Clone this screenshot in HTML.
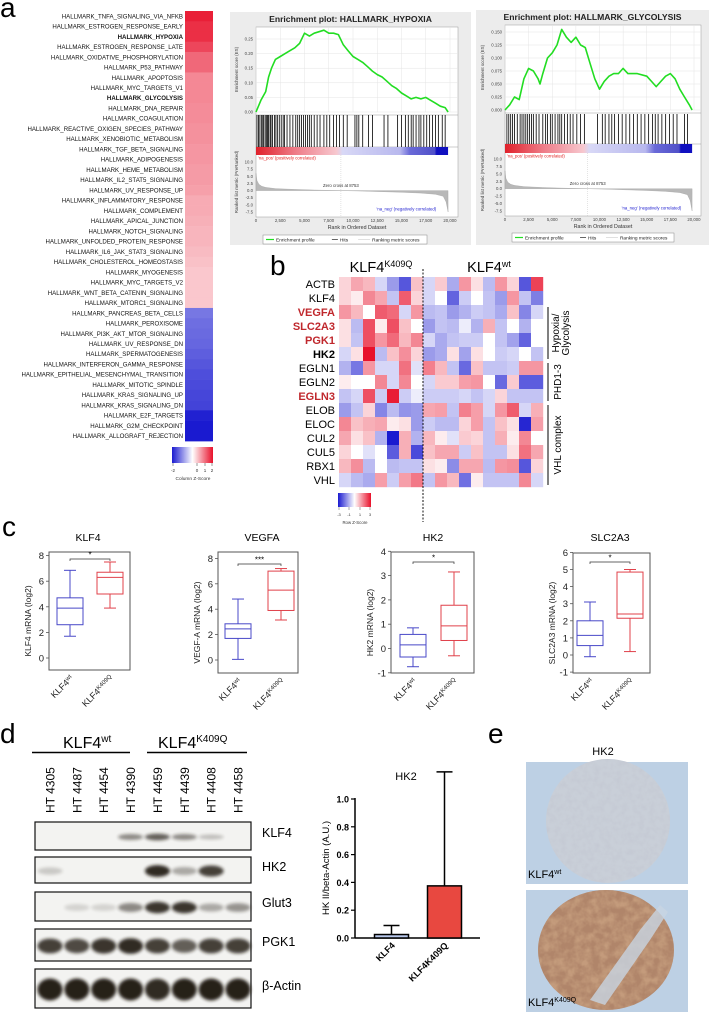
<!DOCTYPE html>
<html><head><meta charset="utf-8">
<style>
html,body{margin:0;padding:0;background:#fff;}
svg{display:block;font-family:"Liberation Sans",Arial,sans-serif;}
</style></head>
<body>
<svg id="fig" width="709" height="1012" viewBox="0 0 709 1012" xmlns="http://www.w3.org/2000/svg">
<defs>
<linearGradient id="zgrad" x1="0" x2="1" y1="0" y2="0">
<stop offset="0" stop-color="#1a1ad0"/><stop offset="0.5" stop-color="#ffffff"/><stop offset="1" stop-color="#e8102a"/>
</linearGradient>
<linearGradient id="rankgrad" x1="0" x2="1" y1="0" y2="0">
<stop offset="0" stop-color="#e0202a"/><stop offset="0.2" stop-color="#ee7a86"/><stop offset="0.42" stop-color="#f7c8cf"/>
<stop offset="0.45" stop-color="#d8d8f6"/><stop offset="0.75" stop-color="#b8b8ee"/><stop offset="0.8" stop-color="#6a6ad8"/>
<stop offset="0.93" stop-color="#5050c8"/><stop offset="0.94" stop-color="#1010c0"/><stop offset="1" stop-color="#1010c0"/>
</linearGradient>
<filter id="blur1" x="-20%" y="-50%" width="140%" height="200%"><feGaussianBlur stdDeviation="1.6"/></filter>
<filter id="tissueWt" x="0" y="0" width="100%" height="100%">
<feTurbulence type="fractalNoise" baseFrequency="0.18" numOctaves="3" seed="3" result="n"/>
<feColorMatrix in="n" type="matrix" values="0 0 0 0 0.55  0 0 0 0 0.58  0 0 0 0 0.65  0 0 0 1.6 -0.55" result="c"/>
<feComposite in="c" in2="SourceGraphic" operator="in"/>
</filter>
<filter id="tissueK" x="0" y="0" width="100%" height="100%">
<feTurbulence type="fractalNoise" baseFrequency="0.12" numOctaves="3" seed="7" result="n"/>
<feColorMatrix in="n" type="matrix" values="0 0 0 0 0.55  0 0 0 0 0.33  0 0 0 0 0.2  0 0 0 2.2 -0.7" result="c"/>
<feComposite in="c" in2="SourceGraphic" operator="in"/>
</filter>
</defs>
</svg>
<script>
// ---------- DATA ----------
const hallmarkNames = ["HALLMARK_TNFA_SIGNALING_VIA_NFKB","HALLMARK_ESTROGEN_RESPONSE_EARLY","HALLMARK_HYPOXIA","HALLMARK_ESTROGEN_RESPONSE_LATE","HALLMARK_OXIDATIVE_PHOSPHORYLATION","HALLMARK_P53_PATHWAY","HALLMARK_APOPTOSIS","HALLMARK_MYC_TARGETS_V1","HALLMARK_GLYCOLYSIS","HALLMARK_DNA_REPAIR","HALLMARK_COAGULATION","HALLMARK_REACTIVE_OXIGEN_SPECIES_PATHWAY","HALLMARK_XENOBIOTIC_METABOLISM","HALLMARK_TGF_BETA_SIGNALING","HALLMARK_ADIPOGENESIS","HALLMARK_HEME_METABOLISM","HALLMARK_IL2_STAT5_SIGNALING","HALLMARK_UV_RESPONSE_UP","HALLMARK_INFLAMMATORY_RESPONSE","HALLMARK_COMPLEMENT","HALLMARK_APICAL_JUNCTION","HALLMARK_NOTCH_SIGNALING","HALLMARK_UNFOLDED_PROTEIN_RESPONSE","HALLMARK_IL6_JAK_STAT3_SIGNALING","HALLMARK_CHOLESTEROL_HOMEOSTASIS","HALLMARK_MYOGENESIS","HALLMARK_MYC_TARGETS_V2","HALLMARK_WNT_BETA_CATENIN_SIGNALING","HALLMARK_MTORC1_SIGNALING","HALLMARK_PANCREAS_BETA_CELLS","HALLMARK_PEROXISOME","HALLMARK_PI3K_AKT_MTOR_SIGNALING","HALLMARK_UV_RESPONSE_DN","HALLMARK_SPERMATOGENESIS","HALLMARK_INTERFERON_GAMMA_RESPONSE","HALLMARK_EPITHELIAL_MESENCHYMAL_TRANSITION","HALLMARK_MITOTIC_SPINDLE","HALLMARK_KRAS_SIGNALING_UP","HALLMARK_KRAS_SIGNALING_DN","HALLMARK_E2F_TARGETS","HALLMARK_G2M_CHECKPOINT","HALLMARK_ALLOGRAFT_REJECTION"];
const hallmarkZ = [2.2,2.0,2.0,1.7,1.3,1.3,0.95,0.95,0.95,0.9,0.9,0.85,0.85,0.8,0.8,0.75,0.75,0.7,0.6,0.6,0.55,0.5,0.5,0.45,0.4,0.35,0.35,0.35,0.35,-1.2,-1.3,-1.35,-1.4,-1.5,-1.6,-1.7,-1.75,-1.8,-1.85,-2.3,-2.4,-2.6];
const hallmarkBold = ["HALLMARK_HYPOXIA","HALLMARK_GLYCOLYSIS"];

const esTicksHyp = [0,0.05,0.10,0.15,0.20,0.25];
const esTicksGly = [0,0.025,0.05,0.075,0.10,0.125,0.15];
const rankTicks = [0,2500,5000,7500,10000,12500,15000,17500,20000];
const metricTicks = [10,7.5,5,2.5,0,-2.5,-5,-7.5];
const hypRanks = [0,0.5,1,1.3,1.6,2,2.5,3,3.5,4,4.5,5,5.5,6,6.5,7,7.5,8,8.5,9,9.5,10,10.5,11,11.5,12,12.5,13,13.5,14,14.5,15,15.5,16,16.5,17,17.5,18,18.5,19,19.5,19.8];
const hypES = [0,0.04,0.07,0.12,0.15,0.18,0.19,0.2,0.21,0.22,0.235,0.27,0.26,0.27,0.275,0.28,0.27,0.27,0.265,0.23,0.21,0.19,0.18,0.17,0.155,0.14,0.128,0.12,0.105,0.09,0.08,0.065,0.055,0.045,0.05,0.045,0.05,0.04,0.03,0.02,0.015,0];
const hypHits = [0.1,0.25,0.4,0.55,0.7,0.8,0.95,1.1,1.2,1.3,1.45,1.55,1.7,1.9,2.05,2.2,2.4,2.6,2.8,2.95,3.2,3.5,3.8,4.1,4.3,4.5,4.7,4.9,5.1,5.3,5.5,5.7,6.0,6.3,6.6,7.0,7.3,7.6,8.0,8.3,8.6,9.0,9.4,10.2,10.4,10.6,11.0,11.6,12.0,13.2,13.6,14.6,15.0,15.4,15.7,16.0,16.2,16.5,16.8,17.0,17.3,17.6,17.9,18.2,18.5,18.8,19.2,19.5];
const glyRanks = [0,0.5,1,1.5,2,2.5,3,3.5,3.7,4,4.5,5,5.5,6,6.5,7,7.5,8,8.5,9,9.5,10,10.5,11,11.5,12,12.5,13,14,15,15.5,16,16.5,17,17.5,18,18.5,19,19.5,19.8];
const glyES = [0,0.01,0.025,0.02,0.06,0.08,0.075,0.06,0.05,0.07,0.1,0.11,0.125,0.155,0.14,0.13,0.14,0.125,0.12,0.09,0.06,0.04,0.055,0.065,0.07,0.07,0.08,0.07,0.07,0.065,0.055,0.045,0.055,0.065,0.07,0.06,0.04,0.025,0.01,0];
const glyHits = [0.2,0.4,0.6,0.8,1.0,1.3,1.6,1.8,2.0,2.2,2.4,2.6,2.8,3.0,3.3,3.6,4.0,4.3,4.5,4.8,5.0,5.3,5.6,5.8,6.0,6.3,6.6,6.9,7.2,7.6,8.0,8.4,9.8,10.3,10.6,11.0,11.3,11.6,12.0,12.4,12.8,13.2,13.6,14.0,14.4,14.8,15.2,15.6,15.9,16.2,16.6,17.0,17.4,17.8,18.2,19.0,19.3];
const metricRanks = [0,0.1,0.3,0.6,1,2,4,6,8.753,11,13,15,17,18.5,19.3,19.6,19.8];
const metricVals = [6,3.5,2.2,1.5,1.1,0.7,0.4,0.2,0,-0.2,-0.4,-0.6,-0.9,-1.3,-2,-4,-7.5];

const geneRows = ["ACTB","KLF4","VEGFA","SLC2A3","PGK1","HK2","EGLN1","EGLN2","EGLN3","ELOB","ELOC","CUL2","CUL5","RBX1","VHL"];
const geneRed = ["VEGFA","SLC2A3","PGK1","EGLN3"];
const geneBold = ["VEGFA","SLC2A3","PGK1","HK2","EGLN3"];
const zMut = [
[0.3,0.8,0.6,-0.3,-1.0,-2.0,0.5],
[0.3,0.1,1.2,0.8,-0.5,1.8,0.3],
[1.0,0.6,0.0,1.8,1.6,-0.3,1.0],
[0.2,-0.6,2.0,0.1,2.0,0.5,0.0],
[0.2,-0.5,2.0,1.0,1.6,0.6,1.2],
[-0.3,0.2,3.0,-0.6,0.5,1.1,0.3],
[-0.7,-1.5,1.0,-0.3,-0.3,1.5,-0.2],
[0.1,0.0,0.0,1.2,-0.3,1.2,0.0],
[-0.5,-0.3,2.0,-0.4,2.8,-0.4,-0.1],
[-1.0,-0.5,0.3,-1.3,-0.6,-1.1,-1.0],
[1.2,0.5,0.7,0.8,0.1,0.2,-1.0],
[0.8,0.2,0.5,-0.7,-3.0,0.7,-0.7],
[0.3,0.0,-0.2,0.0,-1.9,0.7,-2.2],
[0.6,1.1,-0.6,0.0,-0.6,-0.5,-0.5],
[-0.3,-0.6,-0.8,0.9,-0.4,0.9,1.4]];
const zWt = [
[-0.3,0.4,-0.8,1.0,0.2,-0.6,1.0,0.3,-2.0,2.2],
[-0.3,0.0,-1.8,-0.4,0.0,-0.5,-1.0,1.0,-0.5,-1.4],
[-0.6,-0.5,-1.0,-0.7,-0.4,-0.5,-0.8,0.5,-1.3,-0.3],
[-1.0,-0.5,-0.6,-0.1,-0.7,0.7,-0.5,0.0,-0.7,0.0],
[-0.3,-0.8,-0.5,-0.4,-0.4,0.0,-0.5,-0.9,-1.8,0.0],
[-1.0,-0.8,0.2,-0.9,0.2,0.0,-0.4,-0.3,0.0,-0.5],
[1.3,0.6,-0.5,-1.7,0.5,-0.5,-0.5,-0.4,1.0,1.0],
[-0.3,0.4,0.4,0.9,1.0,0.0,-1.7,0.4,-1.9,-1.9],
[-0.4,-0.4,-0.4,-0.3,-0.5,-0.3,0.3,-0.5,-0.5,-0.5],
[0.8,0.9,-0.5,1.3,0.9,-0.3,1.0,1.8,-0.3,0.7],
[-0.4,-0.6,-0.6,0.3,0.9,-0.5,0.5,0.2,-2.8,0.9],
[0.6,0.1,-0.2,0.4,0.3,-0.5,0.7,0.1,1.2,0.0],
[0.5,0.8,0.8,-0.4,0.5,-0.5,-0.5,0.2,1.5,0.8],
[0.2,0.1,-1.2,0.8,0.8,-0.6,1.0,1.1,-2.0,0.3],
[-0.5,1.0,0.6,-1.6,0.1,-0.5,-0.5,-0.5,1.2,-0.3]];

// boxplots: [whiskerLow, q1, median, q3, whiskerHigh]
const boxGenes = ["KLF4","VEGFA","HK2","SLC2A3"];
const boxWt = [[1.7,2.6,3.9,4.7,6.85],[0.05,1.7,2.45,2.85,4.8],[-0.75,-0.35,0.15,0.58,0.85],[-0.1,0.55,1.15,2.0,3.1]];
const boxMut = [[3.9,5.0,6.3,6.7,7.5],[3.15,3.9,5.5,7.0,7.2],[-0.3,0.33,0.93,1.78,3.15],[0.2,2.15,2.4,4.85,5.0]];
const boxTicks = [[0,2,4,6,8],[0,2,4,6,8],[-1,0,1,2,3,4],[-1,0,1,2,3,4,5,6]];
const boxSig = ["*","***","*","*"];
const boxYLabels = ["KLF4 mRNA (log2)","VEGF-A mRNA (log2)","HK2 mRNA (log2)","SLC2A3 mRNA (log2)"];

const laneNames = ["HT 4305","HT 4487","HT 4454","HT 4390","HT 4459","HT 4439","HT 4408","HT 4458"];
const blotNames = ["KLF4","HK2","Glut3","PGK1","β-Actin"];
const blotKLF4 = [0,0,0,0.5,0.7,0.5,0.25,0];
const blotHK2 = [0.2,0,0,0,0.95,0.35,0.85,0];
const blotGlut3 = [0,0.15,0.15,0.5,0.9,0.9,0.35,0.45];
const blotPGK1 = [0.85,0.8,0.9,0.95,0.85,0.7,0.85,0.85];
const blotActin = [1,1,1,1,0.95,1,1,1];

const barCats = ["KLF4","KLF4K409Q"];
const barMeans = [0.025,0.375];
const barErr = [0.065,0.82];
const barTicks = [0,0.2,0.4,0.6,0.8,1.0];

// ---------- HELPERS ----------
const svg = document.getElementById('fig');
const NS = "http://www.w3.org/2000/svg";
function mk(tag, attrs, parent){
  const e = document.createElementNS(NS, tag);
  for (const k in attrs) e.setAttribute(k, attrs[k]);
  (parent||svg).appendChild(e);
  return e;
}
function txt(str, attrs, parent){ const t = mk('text', attrs, parent); t.textContent = str; return t; }
function grp(parent){ return mk('g', {}, parent); }
function lin(d0,d1,r0,r1){ return v => r0 + (v-d0)/(d1-d0)*(r1-r0); }
function mix(a,b,t){ return 'rgb('+a.map((x,i)=>Math.round(x+(b[i]-x)*t)).join(',')+')'; }
function zColor(z, max){
  const t = Math.min(1, Math.abs(z)/max);
  return z>=0 ? mix([255,255,255],[232,16,42],Math.pow(t,0.75)) : mix([255,255,255],[26,26,208],Math.pow(t,0.75));
}

// ---------- PANEL LETTERS ----------
[["a",0,17],["b",270,275],["c",2,536],["d",0,743],["e",488,743]].forEach(p=>{
  const t = txt(p[0], {x:p[1], y:p[2], 'font-size':28, fill:'#000'});
  
  
});

// ---------- PANEL A ----------
(function(){
  const g = grp();
  
  
  const top = 11, rh = 10.24;
  hallmarkNames.forEach((n,i)=>{
    const r = mk('rect', {x:185, y:top+i*rh, width:28, height:rh+0.3, fill:zColor(hallmarkZ[i],2.4)}, g);
    
    
    const t = txt(n, {x:183, y:top+i*rh+rh/2+2.2, 'text-anchor':'end', 'font-size':6.1, 'font-weight':hallmarkBold.includes(n)?'bold':'normal', fill:'#111'}, g);
    
    
  });
  const cb = mk('rect', {x:172, y:447, width:41, height:16, fill:'url(#zgrad)'}, g);
  
  
  [[-2,173],[0,197],[1,205],[2,212]].forEach(p=>{
    mk('line', {x1:p[1], x2:p[1], y1:463, y2:466, stroke:'#333', 'stroke-width':0.5}, g);
    const t = txt(String(p[0]), {x:p[1], y:472, 'font-size':4.5, 'text-anchor':'middle', fill:'#333'}, g);
    
    
  });
  const ct = txt('Column Z-Score', {x:193, y:480, 'font-size':4.8, 'text-anchor':'middle', fill:'#333'}, g);
  
  
})();

// ---------- GSEA ----------
function drawGSEA(L, title, ranks, es, hits, esTicks, esFmt, name){
  const g = grp();
  
  
  const bg = mk('rect', {x:L.bx0, y:L.by0, width:L.bx1-L.bx0, height:L.by1-L.by0, fill:'#ececec'}, g);
  
  
  const tt = txt(title, {x:(L.bx0+L.bx1)/2, y:L.by0+10, 'font-size':8.6, 'font-weight':'bold', 'text-anchor':'middle', fill:'#222'}, g);
  
  
  const X = lin(0,20000,L.x0,L.x20);
  const XR = v => X(v*1000);
  const Y = lin(0,esTicks[esTicks.length-1],L.es0,L.esTop);
  mk('rect', {x:L.x0, y:L.top, width:L.fr-L.x0, height:L.bot-L.top, fill:'#fff', stroke:'#999', 'stroke-width':0.5}, g);
  mk('line', {x1:L.x0, x2:L.fr, y1:L.es0+3, y2:L.es0+3, stroke:'#999', 'stroke-width':0.5}, g);
  mk('line', {x1:L.x0, x2:L.fr, y1:L.hb, y2:L.hb, stroke:'#999', 'stroke-width':0.5}, g);
  rankTicks.forEach(v=>mk('line', {x1:X(v), x2:X(v), y1:L.top, y2:L.es0, stroke:'#e4e4e4', 'stroke-width':0.5}, g));
  esTicks.forEach(v=>{
    mk('line', {x1:L.x0, x2:L.fr, y1:Y(v), y2:Y(v), stroke:'#e4e4e4', 'stroke-width':0.5}, g);
    const t = txt(esFmt(v), {x:L.x0-3, y:Y(v)+1.5, 'font-size':4.3, 'text-anchor':'end', fill:'#444'}, g);
    
    
  });
  const yl = txt('Enrichment score (ES)', {x:0, y:0, 'font-size':4.5, 'text-anchor':'middle', fill:'#444', transform:`translate(${L.bx0+8},${(L.top+L.es0)/2}) rotate(-90)`}, g);
  
  
  const pts = ranks.map((r,i)=>XR(r).toFixed(1)+','+Y(es[i]).toFixed(1)).join(' ');
  const pl = mk('polyline', {points:pts, fill:'none', stroke:'#22dd22', 'stroke-width':1.6, 'stroke-linejoin':'round'}, g);
  
  
  hits.forEach(h=>{
    const l = mk('line', {x1:XR(h), x2:XR(h), y1:L.ht, y2:L.hb, stroke:'#000', 'stroke-width':0.8}, g);
    
    
  });
  const rb = mk('rect', {x:L.x0, y:L.hb, width:XR(19.8)-L.x0, height:L.cb-L.hb, fill:'url(#rankgrad)'}, g);
  
  
  const M = lin(10,-7.5,L.m10,L.m75);
  metricTicks.forEach(v=>{
    const t = txt(v.toFixed(1), {x:L.x0-3, y:M(v)+1.5, 'font-size':4.3, 'text-anchor':'end', fill:'#444'}, g);
    
    
  });
  let d = 'M'+XR(metricRanks[0])+','+M(0);
  metricRanks.forEach((r,i)=>{ d += ' L'+XR(r).toFixed(1)+','+M(metricVals[i]).toFixed(1); });
  d += ' L'+XR(metricRanks[metricRanks.length-1])+','+M(0)+' Z';
  const ar = mk('path', {d:d, fill:'#b8b8b8', stroke:'#999', 'stroke-width':0.3}, g);
  
  
  mk('line', {x1:XR(8.753), x2:XR(8.753), y1:L.cb, y2:L.bot, stroke:'#bbb', 'stroke-width':0.4, 'stroke-dasharray':'1,1'}, g);
  txt("'na_pos' (positively correlated)", {x:L.x0+2, y:L.cb+4.5, 'font-size':4.3, fill:'#e02020'}, g);
  txt("Zero cross at 8753", {x:XR(8.753), y:M(1.3), 'font-size':4.3, 'text-anchor':'middle', fill:'#333'}, g);
  txt("'na_neg' (negatively correlated)", {x:XR(15.5), y:M(-7), 'font-size':4.3, 'text-anchor':'middle', fill:'#2020d0'}, g);
  const ml = txt('Ranked list metric (PreRanked)', {x:0, y:0, 'font-size':4.5, 'text-anchor':'middle', fill:'#444', transform:`translate(${L.bx0+8},${(L.hb+L.bot)/2}) rotate(-90)`}, g);
  
  
  rankTicks.forEach(v=>{
    const t = txt(v===0?'0':v.toLocaleString('en-US'), {x:X(v), y:L.bot+5, 'font-size':4.3, 'text-anchor':'middle', fill:'#444'}, g);
    
    
  });
  const xt = txt('Rank in Ordered Dataset', {x:(L.x0+L.fr)/2, y:L.bot+12, 'font-size':5.3, 'text-anchor':'middle', fill:'#333'}, g);
  
  
  const lg = grp(g);
  
  
  mk('rect', {x:L.lx0, y:L.ly, width:L.lx1-L.lx0, height:9, fill:'#fff', stroke:'#888', 'stroke-width':0.5}, lg);
  const w = L.lx1-L.lx0;
  mk('line', {x1:L.lx0+3, x2:L.lx0+11, y1:L.ly+4.5, y2:L.ly+4.5, stroke:'#22dd22', 'stroke-width':1.2}, lg);
  txt('Enrichment profile', {x:L.lx0+13, y:L.ly+6.3, 'font-size':4.8, fill:'#222'}, lg);
  mk('line', {x1:L.lx0+w*0.42, x2:L.lx0+w*0.42+6, y1:L.ly+4.5, y2:L.ly+4.5, stroke:'#000', 'stroke-width':0.6}, lg);
  txt('Hits', {x:L.lx0+w*0.42+8, y:L.ly+6.3, 'font-size':4.8, fill:'#222'}, lg);
  mk('line', {x1:L.lx0+w*0.58, x2:L.lx0+w*0.58+12, y1:L.ly+4.5, y2:L.ly+4.5, stroke:'#ccc', 'stroke-width':0.6}, lg);
  txt('Ranking metric scores', {x:L.lx0+w*0.58+14, y:L.ly+6.3, 'font-size':4.8, fill:'#222'}, lg);
}
drawGSEA({bx0:230,bx1:471,by0:12,by1:245,x0:256,x20:450,fr:458,top:27,es0:112,esTop:39,ht:115,hb:147,cb:155,m10:162,m75:212,bot:217,lx0:263,lx1:427,ly:235},
  'Enrichment plot: HALLMARK_HYPOXIA', hypRanks, hypES, hypHits, esTicksHyp, v=>v.toFixed(2), 'gsea-hypoxia-plot');
drawGSEA({bx0:476,bx1:709,by0:10,by1:245,x0:505,x20:694,fr:701,top:25,es0:110,esTop:32,ht:114,hb:144,cb:153,m10:159,m75:211,bot:216,lx0:512,lx1:674,ly:233},
  'Enrichment plot: HALLMARK_GLYCOLYSIS', glyRanks, glyES, glyHits, esTicksGly, v=>v.toFixed(3), 'gsea-glycolysis-plot');

// ---------- PANEL B ----------
(function(){
  const g = grp();
  
  
  const top = 277, rh = 14, xL = 339, cwL = 12, xD = 423, cwR = 12;
  const t1 = txt('KLF4', {x:381, y:272, 'font-size':14.5, 'text-anchor':'middle', fill:'#000'}, g);
  const s1 = mk('tspan', {'font-size':9, dy:-5}, t1); s1.textContent = 'K409Q';
  
  
  const t2 = txt('KLF4', {x:489, y:272, 'font-size':14.5, 'text-anchor':'middle', fill:'#000'}, g);
  const s2 = mk('tspan', {'font-size':9, dy:-5}, t2); s2.textContent = 'wt';
  
  
  geneRows.forEach((gn,i)=>{
    zMut[i].forEach((z,j)=>{
      const r = mk('rect', {x:xL+j*cwL, y:top+i*rh, width:cwL+0.2, height:rh+0.2, fill:zColor(z,3)}, g);
      
      
    });
    zWt[i].forEach((z,j)=>{
      const r = mk('rect', {x:xD+j*cwR, y:top+i*rh, width:cwR+0.2, height:rh+0.2, fill:zColor(z,3)}, g);
      
      
    });
    const t = txt(gn, {x:335, y:top+i*rh+rh/2+4, 'font-size':11, 'text-anchor':'end', 'font-weight':geneBold.includes(gn)?'bold':'normal', fill:geneRed.includes(gn)?'#c0282d':'#000'}, g);
    
    
  });
  const dl = mk('line', {x1:xD, x2:xD, y1:top-8, y2:top+15*rh+35, stroke:'#111', 'stroke-width':1, 'stroke-dasharray':'2,1.5'}, g);
  
  
  [[2,5,'Hypoxia/','Glycolysis'],[6,8,'PHD1-3',null],[9,14,'VHL complex',null]].forEach(b=>{
    const y0 = top+b[0]*rh+2, y1 = top+(b[1]+1)*rh-2;
    const l = mk('line', {x1:548, x2:548, y1:y0, y2:y1, stroke:'#000', 'stroke-width':1}, g);
    
    
    const cy = (y0+y1)/2;
    if (b[3]) {
      txt(b[2], {x:0, y:0, 'font-size':10, 'text-anchor':'middle', transform:`translate(559,${cy}) rotate(-90)`}, g);
      txt(b[3], {x:0, y:0, 'font-size':10, 'text-anchor':'middle', transform:`translate(569,${cy}) rotate(-90)`}, g);
    } else {
      const t = txt(b[2], {x:0, y:0, 'font-size':10, 'text-anchor':'middle', transform:`translate(561,${cy}) rotate(-90)`}, g);
      
      
    }
  });
  const cb = mk('rect', {x:338, y:493, width:33, height:14, fill:'url(#zgrad)'}, g);
  
  
  [[-3,339],[-1,349],[1,360],[3,370]].forEach(p=>{
    mk('line', {x1:p[1], x2:p[1], y1:507, y2:510, stroke:'#333', 'stroke-width':0.4}, g);
    txt(String(p[0]), {x:p[1], y:516, 'font-size':4, 'text-anchor':'middle', fill:'#333'}, g);
  });
  txt('Row Z-Score', {x:355, y:524, 'font-size':4.3, 'text-anchor':'middle', fill:'#333'}, g);
})();

// ---------- PANEL C ----------
const boxLayouts = [
  {ax:49, right:130, top:552, bot:670, y0:658, unit:12.8, cx:[70,110], sigY:559, tx:88},
  {ax:218, right:298, top:552, bot:673, y0:660, unit:12.7, cx:[238,281], sigY:564, tx:262},
  {ax:391, right:474, top:552, bot:673, y0:648.5, unit:24.3, cx:[413,454], sigY:562, tx:433},
  {ax:573, right:650, top:553, bot:673, y0:655, unit:17.1, cx:[590,630], sigY:562, tx:610}];
boxGenes.forEach((gene,k)=>{
  const L = boxLayouts[k];
  const g = grp();
  
  
  const Y = v => L.y0 - v*L.unit;
  const t = txt(gene, {x:L.tx, y:541, 'font-size':10.5, 'text-anchor':'middle', fill:'#000'}, g);
  
  
  mk('rect', {x:L.ax, y:L.top, width:L.right-L.ax, height:L.bot-L.top, fill:'none', stroke:'#555', 'stroke-width':1}, g);
  boxTicks[k].forEach(v=>{
    mk('line', {x1:L.ax-3, x2:L.ax, y1:Y(v), y2:Y(v), stroke:'#555', 'stroke-width':0.8}, g);
    const tl = txt(String(v), {x:L.ax-5, y:Y(v)+3.5, 'font-size':9.5, 'text-anchor':'end', fill:'#222'}, g);
    
    
  });
  const yl = txt(boxYLabels[k], {x:0, y:0, 'font-size':8.5, 'text-anchor':'middle', fill:'#222', transform:`translate(${L.ax-18},${(L.top+L.bot)/2+10}) rotate(-90)`}, g);
  
  
  [boxWt[k], boxMut[k]].forEach((b,i)=>{
    const c = i===0 ? '#4848c8' : '#e0404a';
    const cx = L.cx[i], hw = 13;
    const bg = grp(g);
    
    
    mk('line', {x1:cx, x2:cx, y1:Y(b[0]), y2:Y(b[4]), stroke:c, 'stroke-width':1}, bg);
    mk('line', {x1:cx-6, x2:cx+6, y1:Y(b[0]), y2:Y(b[0]), stroke:c, 'stroke-width':1}, bg);
    mk('line', {x1:cx-6, x2:cx+6, y1:Y(b[4]), y2:Y(b[4]), stroke:c, 'stroke-width':1}, bg);
    mk('rect', {x:cx-hw, y:Y(b[3]), width:2*hw, height:Y(b[1])-Y(b[3]), fill:'#fff', stroke:c, 'stroke-width':1}, bg);
    mk('line', {x1:cx-hw, x2:cx+hw, y1:Y(b[2]), y2:Y(b[2]), stroke:c, 'stroke-width':1}, bg);
    const lbl = txt('KLF4', {x:0, y:0, 'font-size':9, 'text-anchor':'end', fill:'#222', transform:`translate(${cx+4},${L.bot+9}) rotate(-45)`}, g);
    const sp = mk('tspan', {'font-size':6, dy:-3}, lbl); sp.textContent = i===0?'wt':'K409Q';
    
    
  });
  mk('path', {d:`M${L.cx[0]},${L.sigY+2} V${L.sigY} H${L.cx[1]} V${L.sigY+2}`, fill:'none', stroke:'#333', 'stroke-width':0.7}, g);
  const st = txt(boxSig[k], {x:(L.cx[0]+L.cx[1])/2, y:L.sigY-1.5, 'font-size':8, 'text-anchor':'middle', fill:'#000'}, g);
  
  
});

// ---------- PANEL D : western blot ----------
(function(){
  const g = grp();
  
  
  const h1 = txt('KLF4', {x:63, y:748, 'font-size':16, fill:'#000'}, g);
  const h1s = mk('tspan', {'font-size':10, dy:-6}, h1); h1s.textContent = 'wt';
  
  
  const h2 = txt('KLF4', {x:158, y:748, 'font-size':16, fill:'#000'}, g);
  const h2s = mk('tspan', {'font-size':10, dy:-6}, h2); h2s.textContent = 'K409Q';
  
  
  mk('line', {x1:32, x2:130, y1:752.5, y2:752.5, stroke:'#000', 'stroke-width':1.5}, g);
  mk('line', {x1:147, x2:247, y1:752.5, y2:752.5, stroke:'#000', 'stroke-width':1.5}, g);
  const laneX = lin(0,7,50,238);
  laneNames.forEach((n,i)=>{
    const t = txt(n, {x:0, y:0, 'font-size':12, fill:'#000', transform:`translate(${laneX(i)+4.5},813) rotate(-90)`}, g);
    
    
  });
  const blots = [[blotKLF4,822,850,4,3],[blotHK2,857,883,6,4],[blotGlut3,892,921,6,4],[blotPGK1,929,961,8,5],[blotActin,969,1008,11,7]];
  const labY = [837,871,907,946,990];
  blots.forEach((b,k)=>{
    const bg = grp(g);
    
    
    mk('rect', {x:35, y:b[1], width:216, height:b[2]-b[1], fill:'#f3f3f1', stroke:'#111', 'stroke-width':1.2}, bg);
    const cy = (b[1]+b[2])/2+1;
    b[0].forEach((v,i)=>{
      if (v<=0) return;
      const e = mk('ellipse', {cx:laneX(i), cy:cy, rx:12.5, ry:b[3]*(0.5+0.5*v), fill:'#1a1410', opacity:Math.min(1,v*0.95), filter:'url(#blur1)'}, bg);
      
      
    });
    const t = txt(blotNames[k], {x:262, y:labY[k], 'font-size':12.5, fill:'#000'}, g);
    
    
  });
})();

// ---------- PANEL D : bar chart ----------
(function(){
  const g = grp();
  
  
  const Y = lin(0,1,938,799);
  const bx = [391.5, 444.5], bw = 34;
  const tt = txt('HK2', {x:406, y:780, 'font-size':11, 'text-anchor':'middle', fill:'#000'}, g);
  
  
  mk('line', {x1:355, x2:355, y1:Y(1)-1, y2:Y(0), stroke:'#000', 'stroke-width':1.5}, g);
  mk('line', {x1:355, x2:480, y1:Y(0), y2:Y(0), stroke:'#000', 'stroke-width':1.5}, g);
  barTicks.forEach(v=>{
    mk('line', {x1:351, x2:355, y1:Y(v), y2:Y(v), stroke:'#000', 'stroke-width':1.2}, g);
    const t = txt(v.toFixed(1), {x:349, y:Y(v)+3.5, 'font-size':9, 'font-weight':'bold', 'text-anchor':'end', fill:'#000'}, g);
    
    
  });
  const yl = txt('HK II/beta-Actin (A.U.)', {x:0, y:0, 'font-size':9.5, 'text-anchor':'middle', fill:'#000', transform:`translate(329,868) rotate(-90)`}, g);
  
  
  barCats.forEach((c,i)=>{
    const eb = mk('path', {d:`M${bx[i]},${Y(barMeans[i])} V${Y(barMeans[i]+barErr[i])} M${bx[i]-8},${Y(barMeans[i]+barErr[i])} H${bx[i]+8}`, fill:'none', stroke:'#000', 'stroke-width':1.5}, g);
    
    
    const r = mk('rect', {x:bx[i]-bw/2, y:Y(barMeans[i]), width:bw, height:Y(0)-Y(barMeans[i]), fill:i===0?'#b8c8ec':'#e84840', stroke:'#000', 'stroke-width':1.5}, g);
    
    
    const t = txt(c, {x:0, y:0, 'font-size':9, 'font-weight':'bold', 'text-anchor':'end', fill:'#000', transform:`translate(${bx[i]+4},${Y(0)+8}) rotate(-45)`}, g);
    
    
  });
})();

// ---------- PANEL E ----------
(function(){
  const g = grp();
  
  
  const tt = txt('HK2', {x:603, y:755, 'font-size':11, 'text-anchor':'middle', fill:'#000'}, g);
  
  
  const i1 = grp(g);
  
  
  mk('rect', {x:526, y:762, width:162, height:122, fill:'#bdd0e4'}, i1);
  mk('circle', {cx:608, cy:821, r:62, fill:'#c9cfd8'}, i1);
  mk('circle', {cx:608, cy:821, r:62, fill:'#000', filter:'url(#tissueWt)'}, i1);
  const l1 = txt('KLF4', {x:528, y:878, 'font-size':11, fill:'#000'}, i1);
  const l1s = mk('tspan', {'font-size':7, dy:-4}, l1); l1s.textContent = 'wt';
  const i2 = grp(g);
  
  
  mk('rect', {x:526, y:890, width:162, height:122, fill:'#bdd0e4'}, i2);
  mk('ellipse', {cx:606, cy:950, rx:68, ry:60, fill:'#b0856a'}, i2);
  mk('ellipse', {cx:606, cy:950, rx:68, ry:60, fill:'#000', filter:'url(#tissueK)'}, i2);
  mk('path', {d:'M590,1000 L640,930 L660,905 L668,912 L650,940 L605,1005 Z', fill:'#c8d4e2', opacity:0.8}, i2);
  const l2 = txt('KLF4', {x:528, y:1006, 'font-size':11, fill:'#000'}, i2);
  const l2s = mk('tspan', {'font-size':7, dy:-4}, l2); l2s.textContent = 'K409Q';
})();
</script>
</body></html>
